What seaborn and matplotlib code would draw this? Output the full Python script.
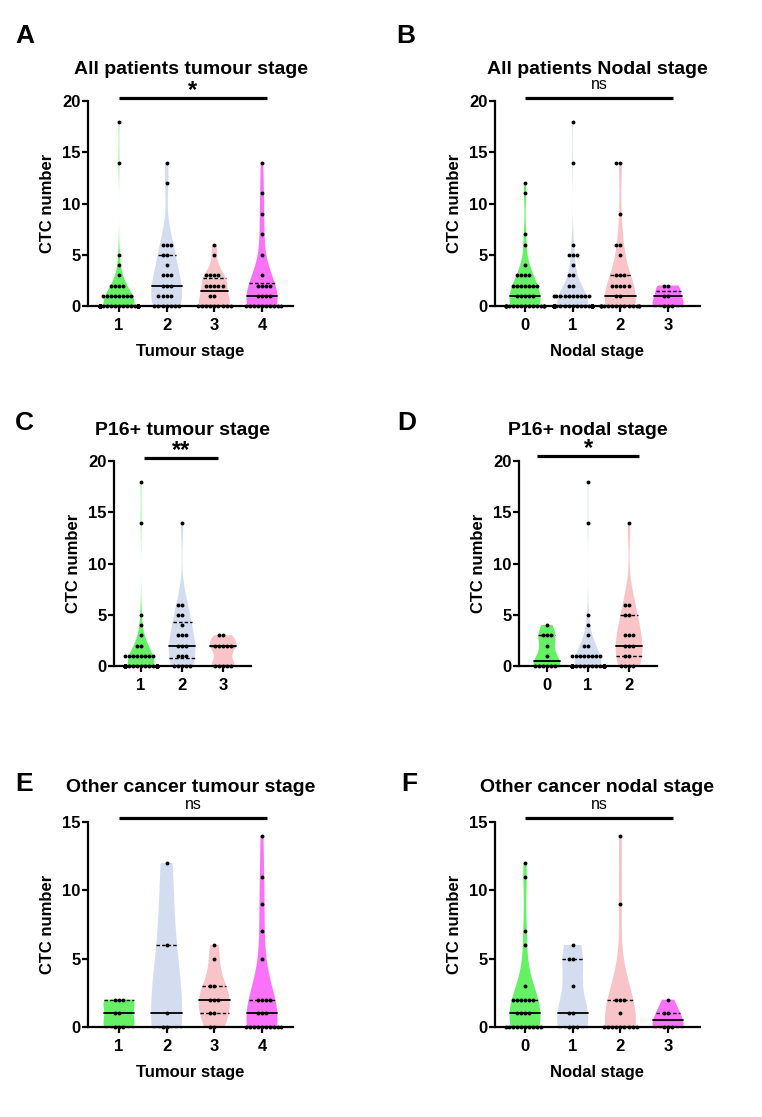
import numpy as np
import pandas as pd
import matplotlib
matplotlib.use("Agg")
import matplotlib.pyplot as plt
import seaborn as sns

sns.set_style("ticks")
plt.rcParams["font.family"] = ["Liberation Sans", "DejaVu Sans"]
plt.rcParams["font.weight"] = "bold"
plt.rcParams["axes.labelweight"] = "bold"
for k in ["text.color", "axes.labelcolor", "xtick.color", "ytick.color",
          "xtick.labelcolor", "ytick.labelcolor", "axes.edgecolor"]:
    plt.rcParams[k] = "black"

W, H = 762, 1117
colors = ["#66f066", "#d4dcf0", "#f8c4c8", "#fa72fa"]

# ---------------- data (value / count pairs) -------------
A_categories = ["1", "2", "3", "4"]
A_g1_values = [0, 1, 2, 3, 4, 5, 14, 18];        A_g1_counts = [38, 8, 4, 1, 1, 1, 1, 1]
A_g2_values = [0, 1, 2, 3, 4, 5, 6, 12, 14];     A_g2_counts = [7, 4, 3, 3, 1, 2, 3, 1, 1]
A_g3_values = [0, 1, 2, 3, 5, 6];                A_g3_counts = [9, 2, 5, 4, 1, 1]
A_g4_values = [0, 1, 2, 3, 5, 7, 9, 11, 14];     A_g4_counts = [10, 4, 4, 1, 1, 1, 1, 1, 1]

B_categories = ["0", "1", "2", "3"]
B_g0_values = [0, 1, 2, 3, 4, 6, 7, 11, 12];     B_g0_counts = [16, 5, 7, 4, 1, 1, 1, 1, 1]
B_g1_values = [0, 1, 2, 3, 4, 5, 6, 14, 18];     B_g1_counts = [33, 10, 2, 2, 1, 3, 1, 1, 1]
B_g2_values = [0, 1, 2, 3, 5, 6, 9, 14];         B_g2_counts = [14, 2, 5, 3, 1, 2, 1, 2]
B_g3_values = [0, 1, 2];                         B_g3_counts = [3, 2, 2]

C_categories = ["1", "2", "3"]
C_g1_values = [0, 1, 2, 3, 4, 5, 14, 18];        C_g1_counts = [35, 8, 2, 1, 1, 1, 1, 1]
C_g2_values = [0, 1, 2, 3, 4, 5, 6, 14];         C_g2_counts = [5, 3, 3, 3, 1, 2, 2, 1]
C_g3_values = [0, 2, 3];                         C_g3_counts = [5, 5, 2]

D_categories = ["0", "1", "2"]
D_g0_values = [0, 1, 2, 3, 4];                   D_g0_counts = [6, 1, 1, 3, 1]
D_g1_values = [0, 1, 2, 3, 4, 5, 14, 18];        D_g1_counts = [30, 8, 2, 1, 1, 1, 1, 1]
D_g2_values = [0, 1, 2, 3, 5, 6, 14];            D_g2_counts = [4, 2, 3, 3, 2, 2, 1]

E_categories = ["1", "2", "3", "4"]
E_g1_values = [0, 1, 2];                         E_g1_counts = [3, 2, 3]
E_g2_values = [0, 1, 6, 12];                     E_g2_counts = [2, 1, 1, 1]
E_g3_values = [0, 1, 2, 3, 5, 6];                E_g3_counts = [2, 2, 3, 2, 1, 1]
E_g4_values = [0, 1, 2, 5, 7, 9, 11, 14];        E_g4_counts = [10, 3, 4, 1, 1, 1, 1, 1]

F_categories = ["0", "1", "2", "3"]
F_g0_values = [0, 1, 2, 3, 6, 7, 11, 12];        F_g0_counts = [10, 4, 6, 1, 1, 1, 1, 1]
F_g1_values = [0, 1, 3, 5, 6];                   F_g1_counts = [3, 2, 1, 2, 1]
F_g2_values = [0, 1, 2, 9, 14];                  F_g2_counts = [9, 1, 3, 1, 1]
F_g3_values = [0, 1, 2];                         F_g3_counts = [3, 2, 1]

titles = ["All patients tumour stage", "All patients Nodal stage",
          "P16+ tumour stage", "P16+ nodal stage",
          "Other cancer tumour stage", "Other cancer nodal stage"]
xlabels = ["Tumour stage", "Nodal stage"] * 3
letters = ["A", "B", "C", "D", "E", "F"]
sig_labels = ["*", "ns", "**", "*", "ns", "ns"]
y_max = [20, 20, 20, 20, 15, 15]
y_ticks = [[0, 5, 10, 15, 20]] * 4 + [[0, 5, 10, 15]] * 2

panel_data = [
    (A_categories, [(A_g1_values, A_g1_counts), (A_g2_values, A_g2_counts),
                    (A_g3_values, A_g3_counts), (A_g4_values, A_g4_counts)]),
    (B_categories, [(B_g0_values, B_g0_counts), (B_g1_values, B_g1_counts),
                    (B_g2_values, B_g2_counts), (B_g3_values, B_g3_counts)]),
    (C_categories, [(C_g1_values, C_g1_counts), (C_g2_values, C_g2_counts),
                    (C_g3_values, C_g3_counts)]),
    (D_categories, [(D_g0_values, D_g0_counts), (D_g1_values, D_g1_counts),
                    (D_g2_values, D_g2_counts)]),
    (E_categories, [(E_g1_values, E_g1_counts), (E_g2_values, E_g2_counts),
                    (E_g3_values, E_g3_counts), (E_g4_values, E_g4_counts)]),
    (F_categories, [(F_g0_values, F_g0_counts), (F_g1_values, F_g1_counts),
                    (F_g2_values, F_g2_counts), (F_g3_values, F_g3_counts)]),
]

# ---------------- layout (pixels) ----------------
axes_px = [(88, 101, 293, 306), (495, 101, 700, 306),
           (114, 461, 251, 666), (519, 461, 657, 666),
           (88, 822, 293, 1027), (495, 822, 700, 1027)]
xlims = [(-0.65, 3.65), (-0.63, 3.67), (-0.66, 2.68), (-0.68, 2.68),
         (-0.65, 3.65), (-0.63, 3.67)]
sig_span = [(0, 3.1), (0, 3.1), (0.07, 1.88), (-0.24, 2.24), (0, 3.1), (0, 3.1)]
bar_y_px = [98, 98, 458, 456, 818, 818]
title_base_px = [74, 74, 435, 435, 792, 792]
letter_pos_px = [(15, 43), (396, 43), (15, 430), (397, 430), (15, 791), (401, 791)]

fig = plt.figure(figsize=(W / 100, H / 100), dpi=100)
fig.patch.set_facecolor("white")


def fx(x):
    return x / W


def fy(y):
    return 1 - y / H


for i, (cats, groups) in enumerate(panel_data):
    x0, y0, x1, y1 = axes_px[i]
    wpx, hpx = x1 - x0, y1 - y0
    ax = fig.add_axes([fx(x0), fy(y1), wpx / W, hpx / H])
    ax.set_facecolor("none")
    rows = []
    for c, (vals, cnts) in zip(cats, groups):
        for v in np.repeat(vals, cnts):
            rows.append((c, float(v)))
    df = pd.DataFrame(rows, columns=["stage", "ctc"])
    pal = colors[:len(cats)]

    sns.violinplot(data=df, x="stage", y="ctc", order=cats, hue="stage",
                   hue_order=cats, palette=pal, saturation=1, legend=False,
                   cut=0, density_norm="width", width=0.65, bw_adjust=1.0,
                   inner="quart", inner_kws=dict(color="black", linewidth=1.1),
                   linewidth=0.5, ax=ax)
    for coll in ax.collections:
        coll.set_edgecolor("none")
        coll.set_linewidth(0)
    for k, ln in enumerate(ax.lines):
        ln.set_color("black")
        if k % 3 == 1:
            ln.set_linestyle("-")
            ln.set_linewidth(1.3)
        else:
            ln.set_linestyle((0, (2.5, 1.5)))
            ln.set_linewidth(1.0)
        ln.set_clip_on(False)
    n_before = len(ax.collections)
    sns.swarmplot(data=df, x="stage", y="ctc", order=cats, color="black",
                  size=2.8, ax=ax, zorder=5, warn_thresh=1)
    for coll in ax.collections[n_before:]:
        coll.set_clip_on(False)
        off = coll.get_offsets()
        if len(off):
            ctr = np.round(off[:, 0])
            off[:, 0] = ctr + (off[:, 0] - ctr) * 0.8
            coll.set_offsets(off)

    ax.set_xlim(*xlims[i])
    ax.set_ylim(0, y_max[i])
    ax.set_yticks(y_ticks[i])
    sns.despine(ax=ax)
    for s in ["left", "bottom"]:
        ax.spines[s].set_linewidth(1.6)
        ax.spines[s].set_color("black")
    ax.tick_params(axis="both", length=4.3, width=1.6, color="black",
                   labelsize=12, labelcolor="black")
    ax.tick_params(axis="y", pad=1)
    ax.tick_params(axis="x", pad=4)
    for t in ax.get_xticklabels() + ax.get_yticklabels():
        t.set_fontweight("bold")
    ax.set_ylabel("CTC number", fontsize=12, fontweight="bold")
    ax.set_xlabel(xlabels[i], fontsize=12, fontweight="bold")
    ax.yaxis.set_label_coords(-33 / wpx, 0.5)
    ax.xaxis.set_label_coords(0.5, -38 / hpx)
    if i in (2, 3):
        ax.set_xlabel("")

    # significance bar
    by = (y1 - bar_y_px[i]) / hpx
    ax.plot(sig_span[i], [by, by], color="black", lw=2.3,
            transform=ax.get_xaxis_transform(), clip_on=False,
            solid_capstyle="butt")
    mid = (sig_span[i][0] + sig_span[i][1]) / 2
    if sig_labels[i] == "ns":
        ty = (y1 - (bar_y_px[i] - 9)) / hpx
        ax.text(mid, ty, "ns", transform=ax.get_xaxis_transform(),
                ha="center", va="baseline", fontsize=11.5, fontweight="normal")
    else:
        ty = (y1 - (bar_y_px[i] - 1)) / hpx
        ax.text(mid, ty, sig_labels[i], transform=ax.get_xaxis_transform(),
                ha="center", va="baseline", fontsize=17, fontweight="bold")

    fig.text(fx((x0 + x1) / 2), fy(title_base_px[i]), titles[i],
             ha="center", va="baseline", fontsize=14, fontweight="bold")
    lx, ly = letter_pos_px[i]
    fig.text(fx(lx), fy(ly), letters[i], ha="left", va="baseline",
             fontsize=19, fontweight="bold")

fig.savefig("out.png", dpi=100)
